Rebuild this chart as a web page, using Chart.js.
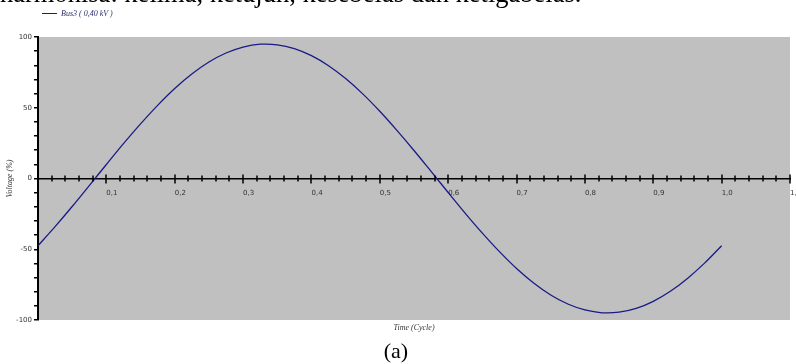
<!DOCTYPE html>
<html>
<head>
<meta charset="utf-8">
<script src="https://cdn.jsdelivr.net/npm/chart.js@4/dist/chart.umd.min.js"></script>
<style>
  html, body { margin: 0; padding: 0; background: #fff; }
  #wrap { position: relative; width: 796px; height: 364px; overflow: hidden; }
  #docLine {
    position: absolute; left: 0; top: -20px; white-space: nowrap;
    font: 26.5px/26px "Liberation Serif", serif; color: #000;
  }
  #caption {
    position: absolute; left: 0; width: 792px; top: 338px; text-align: center;
    font: 22px "Liberation Serif", serif; color: #000;
  }
  canvas { position: absolute; left: 0; top: 0; }
</style>
</head>
<body>
<div id="wrap">
  <canvas id="chartCanvas" width="796" height="364"></canvas>
  <div id="docLine">harmonisa: kelima, ketujuh, kesebelas dan ketigabelas.</div>
  <div id="caption">(a)</div>
</div>
<script>
// time axis (cycles) and bus voltage (%)
const cycleTimes = [
  0, 0.025, 0.05, 0.075, 0.1, 0.125, 0.15, 0.175, 0.2, 0.225,
  0.25, 0.275, 0.3, 0.325, 0.35, 0.375, 0.4, 0.425, 0.45, 0.475,
  0.5, 0.525, 0.55, 0.575, 0.6, 0.625, 0.65, 0.675, 0.7, 0.725,
  0.75, 0.775, 0.8, 0.825, 0.85, 0.875, 0.9, 0.925, 0.95, 0.975, 1.0
];
const busVoltage = [
  -47.5, -34, -19.8, -5, 9.9, 24.6, 38.6, 51.7, 63.6, 73.8,
  82.3, 88.7, 92.9, 94.9, 94.5, 91.8, 86.8, 79.7, 70.6, 59.8,
  47.5, 34, 19.8, 5, -9.9, -24.6, -38.6, -51.7, -63.6, -73.8,
  -82.3, -88.7, -92.9, -94.9, -94.5, -91.8, -86.8, -79.7, -70.6, -59.8, -47.5
];
const seriesName = "Bus3 ( 0,40 kV )";
const xTitle = "Time (Cycle)";
const yTitle = "Voltage (%)";

const smallFont = "italic 8px 'Liberation Serif', serif";
const tickFont = { family: "'DejaVu Sans', sans-serif", size: 7 };

// gray plot background, x ticks crossing the zero line, legend and axis titles
const plotDecor = {
  id: 'plotDecor',
  beforeDraw(chart) {
    const a = chart.chartArea, ctx = chart.ctx;
    ctx.save();
    ctx.fillStyle = '#c0c0c0';
    ctx.fillRect(a.left, a.top, a.right - a.left, a.bottom - a.top);
    ctx.restore();
  },
  afterDraw(chart) {
    const ctx = chart.ctx, a = chart.chartArea;
    const xs = chart.scales.x, ys = chart.scales.y;
    const y0 = ys.getPixelForValue(0);
    ctx.save();
    ctx.strokeStyle = '#000';
    ctx.lineWidth = 1.5;
    xs.ticks.forEach(t => {
      const px = Math.round(xs.getPixelForValue(t.value));
      const major = Math.abs(t.value * 10 - Math.round(t.value * 10)) < 1e-6;
      const up = major ? 4 : 3, down = major ? 5 : 3;
      ctx.beginPath();
      ctx.moveTo(px, y0 - up);
      ctx.lineTo(px, y0 + down);
      ctx.stroke();
    });

    // legend
    ctx.strokeStyle = '#1a1a86';
    ctx.lineWidth = 1;
    ctx.beginPath();
    ctx.moveTo(42, 13.5);
    ctx.lineTo(57, 13.5);
    ctx.stroke();
    ctx.fillStyle = '#2a2a6a';
    ctx.font = smallFont;
    ctx.textBaseline = 'middle';
    ctx.fillText(seriesName, 61, 14);

    // axis titles
    ctx.fillStyle = '#333';
    ctx.textAlign = 'center';
    ctx.fillText(xTitle, (a.left + a.right) / 2, 328);
    ctx.translate(10, (a.top + a.bottom) / 2);
    ctx.rotate(-Math.PI / 2);
    ctx.fillText(yTitle, 0, 0);
    ctx.restore();
  }
};

new Chart(document.getElementById('chartCanvas'), {
  type: 'line',
  data: {
    labels: cycleTimes,
    datasets: [{
      label: seriesName,
      data: cycleTimes.map((t, i) => ({ x: t, y: busVoltage[i] })),
      borderColor: '#1a1a86',
      borderWidth: 1.3,
      pointRadius: 0,
      tension: 0.3,
      fill: false
    }]
  },
  options: {
    responsive: false,
    animation: false,
    layout: { padding: { left: 0, top: 37, right: 6, bottom: 44 } },
    plugins: { legend: { display: false }, tooltip: { enabled: false } },
    scales: {
      x: {
        type: 'linear',
        position: { y: 0 },
        min: 0,
        max: 1.1,
        // the last label may overhang the plot edge
        afterFit: s => { s.paddingLeft = 0; s.paddingRight = 0; },
        border: { display: true, color: '#000', width: 1.5 },
        grid: { display: false },
        ticks: {
          stepSize: 0.02,
          autoSkip: false,
          maxRotation: 0,
          align: 'start',
          color: '#333',
          font: tickFont,
          padding: 2,
          callback: v => {
            const major = Math.abs(v * 10 - Math.round(v * 10)) < 1e-6;
            return (major && v > 0) ? v.toFixed(1).replace('.', ',') : '';
          }
        }
      },
      y: {
        min: -100,
        max: 100,
        afterFit: s => { s.width = 38; },
        border: { display: true, color: '#000', width: 2 },
        grid: { drawOnChartArea: false, color: '#000', tickLength: 4, lineWidth: 1.5 },
        ticks: {
          stepSize: 10,
          autoSkip: false,
          color: '#333',
          font: tickFont,
          padding: 2,
          callback: v => (v % 50 === 0 ? String(v) : '')
        }
      }
    }
  },
  plugins: [plotDecor]
});
</script>
</body>
</html>
